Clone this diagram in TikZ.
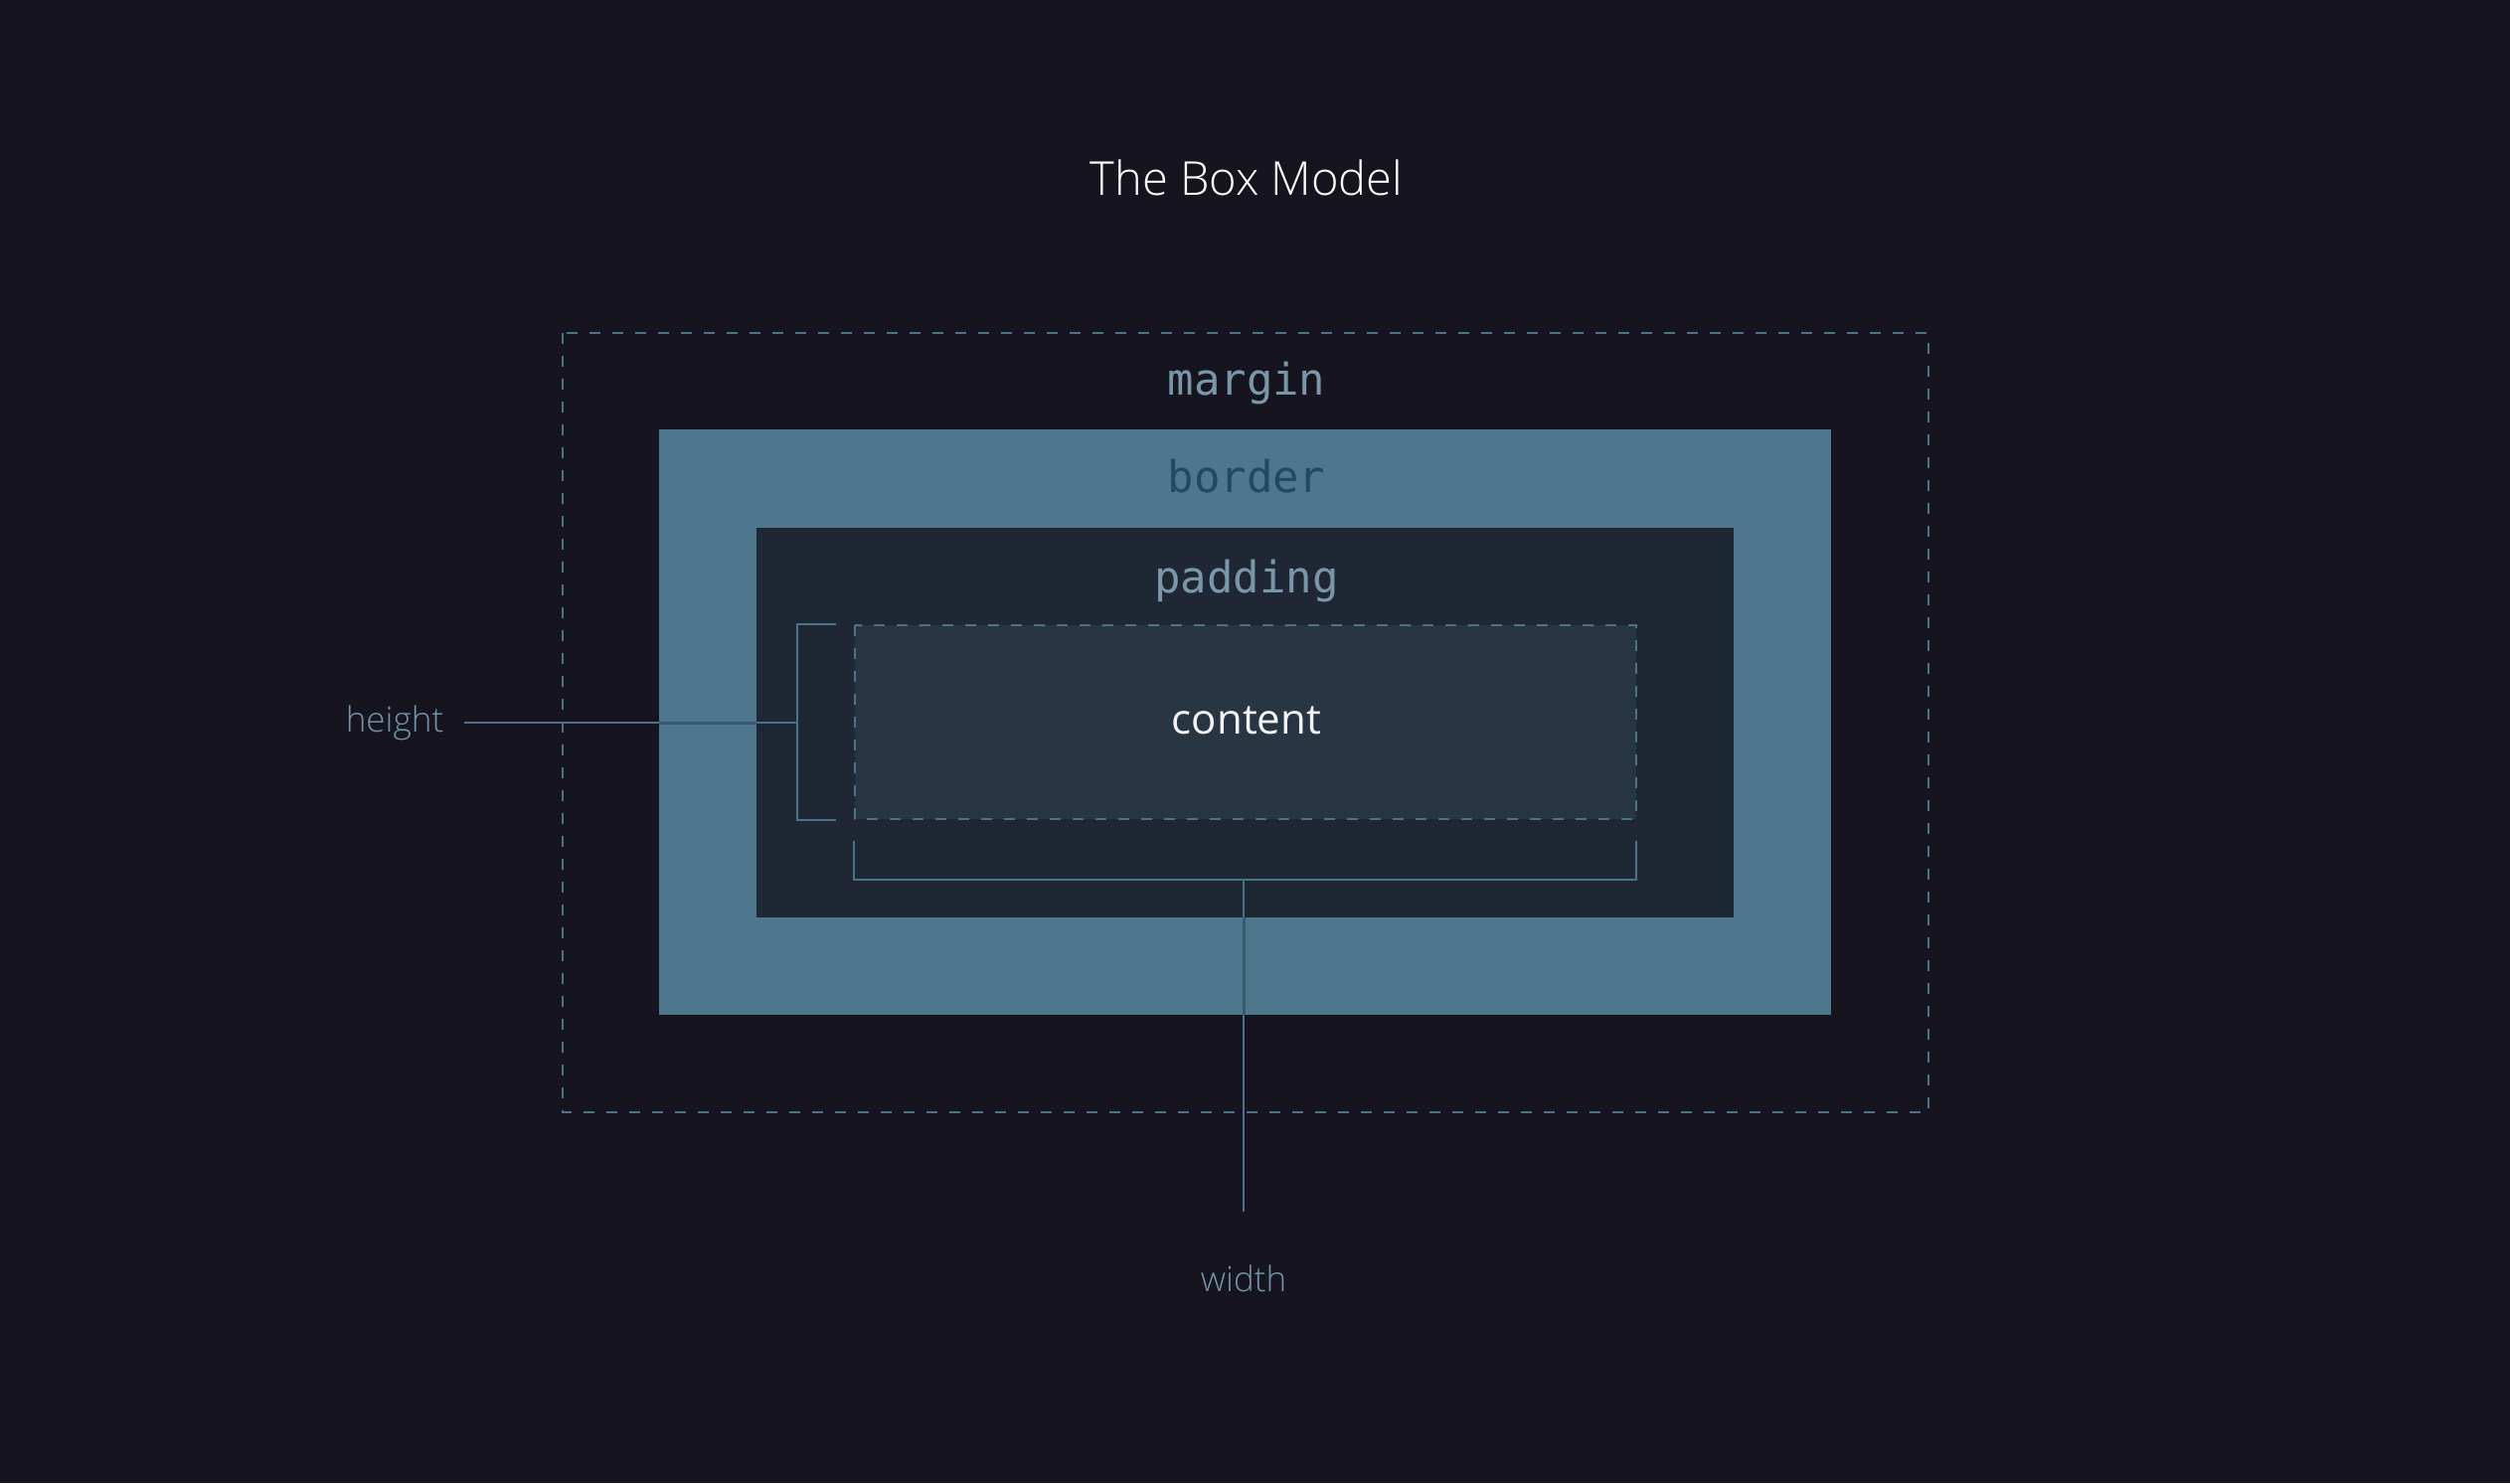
\documentclass[tikz,border=0pt]{standalone}
\usepackage{fontspec}
\setmainfont{Open Sans}
\newfontfamily\titlefont{Open Sans Light}
\newfontfamily\monofont{DejaVu Sans Mono}
\definecolor{bg}{HTML}{16151F}
\definecolor{borderfill}{HTML}{4E778D}
\definecolor{paddingfill}{HTML}{202734}
\definecolor{contentfill}{HTML}{283542}
\definecolor{linec}{HTML}{4A7289}
\definecolor{linedark}{HTML}{365A6F}
\definecolor{monotext}{HTML}{7A97AA}
\definecolor{bordertext}{HTML}{1E4A62}
\definecolor{labeltext}{HTML}{7393A7}
\definecolor{contenttext}{HTML}{F2F2F2}
\begin{document}
\begin{tikzpicture}[x=1pt,y=-1pt,
  dashbox/.style={draw=linec, line width=2pt, dash pattern=on 11pt off 12pt},
  bracket/.style={draw=linec, line width=2pt},
  monolabel/.style={font=\monofont\fontsize{44}{50}\selectfont, anchor=base, inner sep=0pt},
  dimlabel/.style={font=\titlefont\fontsize{35}{40}\selectfont, text=labeltext, anchor=base, inner sep=0pt}]
\fill[bg] (0,0) rectangle (2525,1492);
\useasboundingbox (0,0) rectangle (2525,1492);
% boxes
\fill[borderfill] (663,432) rectangle (1842,1021);
\fill[paddingfill] (761,531) rectangle (1744,923);
\fill[contentfill] (860,629) rectangle (1646,824);
\draw[dashbox] (566,335) rectangle (1940,1119);
\draw[dashbox] (860,629) rectangle (1646,824);
% texts
\node[font=\titlefont\fontsize{47}{56}\selectfont, text=white, anchor=base, inner sep=0pt] (title) at (1254,196) {The Box Model};
\node[monolabel, text=monotext] (margin) at (1254,397) {margin};
\node[monolabel, text=bordertext] (border) at (1254,495) {border};
\node[monolabel, text=monotext] (padding) at (1254,596) {padding};
\node[font=\fontsize{42}{50}\selectfont, text=contenttext, anchor=base, inner sep=0pt] (content) at (1254,738) {content};
\node[dimlabel] (height) at (397,736) {height};
\node[dimlabel] (width) at (1251,1299) {width};
% height bracket
\coordinate (hb) at (802,727);
\coordinate (hstart) at (467,727);
\draw[bracket] (841,628) -- (802,628) -- (802,825) -- (841,825);
\draw[bracket] (hstart) -- (hb);
% width bracket
\coordinate (wb) at (1251,885);
\coordinate (wend) at (1251,1219);
\draw[bracket] (859,846) -- (859,885) -- (1646,885) -- (1646,846);
\draw[bracket] (wb) -- (wend);
% darker where connectors cross the border band
\begin{scope}[even odd rule]
  \clip (663,432) rectangle (1842,1021) (761,531) rectangle (1744,923);
  \draw[draw=linedark, line width=3pt] (hstart) -- (hb);
  \draw[draw=linedark, line width=3pt] (wb) -- (wend);
\end{scope}
\end{tikzpicture}
\end{document}
